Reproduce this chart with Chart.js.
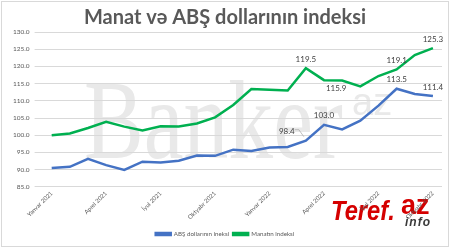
<!DOCTYPE html>
<html>
<head>
<meta charset="utf-8">
<script src="https://cdn.jsdelivr.net/npm/chart.js@4.4.0/dist/chart.umd.min.js"></script>
<style>
  html, body { margin: 0; padding: 0; background: #fff; }
  #wrap { position: relative; width: 450px; height: 247px; overflow: hidden; }
  #frame { position: absolute; left: 1px; top: 1px; width: 446px; height: 244px; border: 1px solid #d9d9d9; }
  canvas { position: absolute; left: 0; top: 0; }
</style>
</head>
<body>
<div id="wrap">
  <div id="frame"></div>
  <canvas id="myChart" width="450" height="247"></canvas>
</div>
<script>
const months = ['Yanvar', 'Fevral', 'Mart', 'Aprel', 'May', 'İyun', 'İyul', 'Avqust', 'Sentyabr', 'Oktyabr', 'Noyabr', 'Dekabr'];
const labels = [];
for (let y = 2021; y <= 2022; y++) {
  for (let m = 0; m < 12; m++) labels.push(months[m] + ' ' + y);
}
labels.length = 22; // Yanvar 2021 .. Oktyabr 2022

const usdIndex = [90.5, 90.8, 93.1, 91.3, 89.9, 92.3, 92.1, 92.6, 94.1, 94.0, 95.8, 95.4,
                  96.4, 96.6, 98.4, 103.0, 101.7, 104.2, 108.6, 113.5, 112.0, 111.4];
const manatIndex = [100.0, 100.5, 102.1, 103.9, 102.5, 101.4, 102.6, 102.5, 103.4, 105.2, 108.8, 113.4,
                    113.2, 113.0, 119.5, 116.0, 115.9, 114.2, 117.2, 119.1, 123.3, 125.3];
const usdLabelAt = [14, 15, 19, 21];
const manatLabelAt = [14, 16, 19, 21];

const yTicks = [85, 90, 95, 100, 105, 110, 115, 120, 125, 130];

// watermarks (Banker.az behind the plot, Teref.az logo bottom right)
const watermarks = {
  id: 'watermarks',
  beforeDraw(chart) {
    const c = chart.ctx;
    c.save();
    c.textBaseline = 'alphabetic';
    c.fillStyle = '#e9e9e9';
    c.font = '112px "Liberation Serif"';
    c.save();
    c.translate(84, 158);
    c.scale(0.8, 1);
    c.fillText('Banker', 0, 0);
    c.restore();
    c.font = '38px "Liberation Sans"';
    c.fillText('az', 352, 115);

    c.fillStyle = '#d50000';
    c.font = 'italic bold 27px "Liberation Sans"';
    c.save();
    c.translate(331, 220);
    c.scale(0.88, 1);
    c.fillText('Teref.', 0, 0);
    c.restore();
    c.font = 'bold 27px "Liberation Sans"';
    c.fillText('az', 401, 214);
    c.fillStyle = '#3a3a3a';
    c.font = 'italic bold 12px "Liberation Sans"';
    c.letterSpacing = '1px';
    c.fillText('info', 405, 226);
    c.restore();
  }
};

// value labels, drawn like excel data labels
const valueLabels = {
  id: 'valueLabels',
  afterDatasetsDraw(chart) {
    const c = chart.ctx;
    c.save();
    c.font = '8px Lato';
    c.fillStyle = '#404040';
    c.textAlign = 'center';
    c.textBaseline = 'middle';
    const put = (dsIndex, idx) => {
      const pt = chart.getDatasetMeta(dsIndex).data[idx];
      const v = chart.data.datasets[dsIndex].data[idx].toFixed(1);
      let x = pt.x, y = pt.y - 9;
      if (dsIndex === 1 && idx === 16) { x = pt.x - 6; y = pt.y + 8; }
      if (dsIndex === 0 && idx === 14) {
        x = pt.x - 19; y = pt.y - 9;
        c.strokeStyle = '#a6a6a6';
        c.lineWidth = 0.7;
        c.beginPath();
        c.moveTo(pt.x - 11, pt.y - 11);
        c.lineTo(pt.x - 7, pt.y - 11);
        c.lineTo(pt.x - 2, pt.y - 4);
        c.stroke();
      }
      c.fillText(v, x, y);
    };
    usdLabelAt.forEach(i => put(0, i));
    manatLabelAt.forEach(i => put(1, i));
    c.restore();
  }
};

const ctx = document.querySelector('#myChart');

new Chart(ctx, {
  type: 'line',
  data: {
    labels: labels,
    datasets: [
      {
        label: 'ABŞ dollarının ineksi',
        data: usdIndex,
        borderColor: '#4472C4',
        backgroundColor: '#4472C4',
        borderWidth: 2.5,
        pointRadius: 0,
        tension: 0
      },
      {
        label: 'Manatın indeksi',
        data: manatIndex,
        borderColor: '#00B050',
        backgroundColor: '#00B050',
        borderWidth: 2.5,
        pointRadius: 0,
        tension: 0
      }
    ]
  },
  options: {
    responsive: false,
    animation: false,
    layout: { padding: { left: 8, right: 8, top: 0, bottom: 0 } },
    plugins: {
      title: {
        display: true,
        text: 'Manat və ABŞ dollarının indeksi',
        color: '#595959',
        font: { family: 'Lato', size: 20, weight: 'bold' },
        padding: { top: 6, bottom: 2 }
      },
      legend: {
        position: 'bottom',
        labels: {
          boxWidth: 15,
          boxHeight: 2,
          color: '#595959',
          font: { family: 'Lato', size: 6.2 },
          padding: 4
        }
      },
      tooltip: { enabled: false }
    },
    scales: {
      x: {
        offset: true,
        grid: { display: false, drawTicks: false },
        border: { display: false },
        afterFit: axis => { axis.height = 40; },
        ticks: {
          autoSkip: false,
          maxRotation: 45,
          minRotation: 45,
          color: '#595959',
          font: { family: 'Lato', size: 6 },
          padding: 3,
          callback: function (val, i) { return i % 3 === 0 ? labels[i] : ''; }
        }
      },
      y: {
        min: 85,
        max: 130,
        afterBuildTicks: axis => { axis.ticks = yTicks.map(v => ({ value: v })); },
        grid: { color: '#d9d9d9', lineWidth: 1 },
        border: { display: false },
        ticks: {
          color: '#595959',
          font: { family: 'Lato', size: 6.5 },
          padding: 5,
          callback: v => v.toFixed(1)
        }
      }
    }
  },
  plugins: [watermarks, valueLabels]
});
</script>
</body>
</html>
